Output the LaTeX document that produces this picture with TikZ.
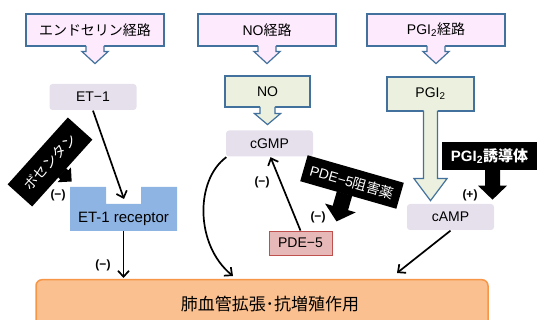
\documentclass[tikz,border=0pt]{standalone}
\usepackage{fontspec}
\setmainfont{Liberation Sans}
\newfontfamily\jp{Noto Sans CJK JP}
\usetikzlibrary{calc}
\usetikzlibrary{arrows.meta}

\definecolor{pathpink}{HTML}{FDEAFD}
\definecolor{borderblue}{HTML}{41719C}
\definecolor{agentgreen}{HTML}{EBF1DE}
\definecolor{messlav}{HTML}{E6E0EC}
\definecolor{recblue}{HTML}{8EB4E3}
\definecolor{pdefill}{HTML}{E6B9B8}
\definecolor{pdedraw}{HTML}{C0504D}
\definecolor{actfill}{HTML}{FAC090}
\definecolor{actdraw}{HTML}{F79646}

\tikzset{
    pathbox/.style = {draw = borderblue, fill = pathpink, line width = 1.2pt, minimum width = 138, minimum height = 32, inner sep = 0pt},
    agentbox/.style = {draw = borderblue, fill = agentgreen, line width = 1.2pt, inner sep = 0pt},
    messbox/.style = {fill = messlav, rounded corners = 3pt, minimum width = 87, minimum height = 26, inner sep = 0pt},
    drugbox/.style = {fill = black, text = white, inner sep = 0pt},
    effect/.style = {-{Straight Barb[length = 6pt, width = 11pt]}, line width = 1.7pt},
    sign/.style = {font = \bfseries\fontsize{12}{13}\selectfont}
}

% hollow block arrow under a node: node, shaft half width, head half width, shaft length, head length, fill
\newcommand*{\hollowtip}[6]{%
    \begin{scope}[shift = {(#1.south)}]
        \fill[#6] (-#2,-1.6) -- (-#2,#4) -- (-#3,#4) -- (0,#4+#5) -- (#3,#4) -- (#2,#4) -- (#2,-1.6) -- cycle;
        \draw[borderblue, line width = 1.2pt] (-#2,-0.6) -- (-#2,#4) -- (-#3,#4) -- (0,#4+#5) -- (#3,#4) -- (#2,#4) -- (#2,-0.6);
    \end{scope}
}
% solid block arrow under a drug node: node, rotation, offset, shaft half width, head half width, shaft length, head length
\newcommand*{\solidtip}[7]{%
    \begin{scope}[shift = {(#1.south)}, rotate = #2]
        \fill[black] (#3-#4,-1) -- (#3-#4,#6) -- (#3-#5,#6) -- (#3,#6+#7) -- (#3+#5,#6) -- (#3+#4,#6) -- (#3+#4,-1) -- cycle;
    \end{scope}
}

\begin{document}
\begin{tikzpicture}[black, line width = 1.3pt, x = 1pt, y = -1pt, font = \fontsize{14}{16}\selectfont]
    \useasboundingbox[clip] (0,0) rectangle (542,320);

    % pathways
    \node (pw1) at (95,30) [pathbox] {\jp エンドセリン経路};
    \node (pw2) at (267,30) [pathbox] {NO{\jp 経路}};
    \node (pw3) at (436,30) [pathbox] {PGI\textsubscript{2}{\jp 経路}};

    \hollowtip{pw1}{9}{13}{5}{12}{pathpink}
    \hollowtip{pw2}{9}{13}{5}{12}{pathpink}
    \hollowtip{pw3}{9}{13}{5}{12}{pathpink}

    % agents
    \node (et1) at (93,97) [messbox] {ET−1};
    \node (no) at (267.5,91.5) [agentbox, minimum width = 85, minimum height = 31] {NO};
    \node (pgi) at (430.5,94) [agentbox, minimum width = 87, minimum height = 34] {PGI\textsubscript{2}};

    \hollowtip{no}{7.5}{13}{6}{11}{agentgreen}
    \hollowtip{pgi}{7}{16.5}{67}{22}{agentgreen}

    \node (cgmp) at (269.5,143.5) [messbox] {cGMP};
    \node (camp) at (450.5,217) [messbox] {cAMP};
    \node (pde5) at (300.5,243) [draw = pdedraw, fill = pdefill, line width = 0.8pt, minimum width = 63, minimum height = 24, inner sep = 0pt] {PDE−5};

    % receptor
    \fill[recblue] (70,187) -- (106,187) -- (106,204) -- (141,204) -- (141,187) -- (177,187) -- (177,231) -- (70,231) -- cycle;
    \coordinate (site) at (124,199);
    \node (rec) at (123.5,231) [anchor = south, inner ysep = 5pt, font = \fontsize{15}{17}\selectfont] {ET-1 receptor};

    % effect
    \node (act) at (262,279) [anchor = north, draw = actdraw, fill = actfill, line width = 1.5pt, rounded corners = 6pt, minimum width = 452, minimum height = 48, inner sep = 0pt, font = \fontsize{17}{19}\selectfont] {\hspace*{16pt}\jp 肺血管拡張･抗増殖作用};

    % drugs
    \node (bos) at (50,162) [drugbox, rotate = 48, minimum width = 90, minimum height = 33] {\jp ボセンタン};
    \node (pdei) at (352,182) [drugbox, rotate = -16, minimum width = 100, minimum height = 27] {PDE−5{\jp 阻害薬}};
    \node (pgid) at (489.5,156) [drugbox, minimum width = 95, minimum height = 28, font = \bfseries\fontsize{15}{17}\selectfont] {PGI\textsubscript{2}{\jp 誘導体}};

    \solidtip{bos}{48}{0}{6}{10}{2}{10}
    \solidtip{pdei}{-16}{-4}{8}{16}{14}{14}
    \solidtip{pgid}{0}{3}{7.5}{14.5}{15}{14}

    % connectors
    \draw[effect] (et1.south) -- (site);
    \draw[effect] (rec.south) -- ([yshift = 1pt]rec.south |- act.north);
    \draw[effect] ([xshift = 1pt]cgmp.south west) .. controls (195,180) and (195,245) .. ([xshift = -29pt, yshift = 3pt]act.north);
    \draw[effect] (pde5.north) -- ([xshift = 1pt]cgmp.south);
    \draw[effect] (camp.south) -- ([xshift = 135pt, yshift = 6pt]act.north);

    % signs
    \node (s1) at (58,195) [sign] {(−)};
    \node (s2) at (103,265) [sign] {(−)};
    \node (s3) at (262,182) [sign] {(−)};
    \node (s4) at (318,217) [sign] {(−)};
    \node (s5) at (470,195) [sign] {(+)};

\end{tikzpicture}
\end{document}
